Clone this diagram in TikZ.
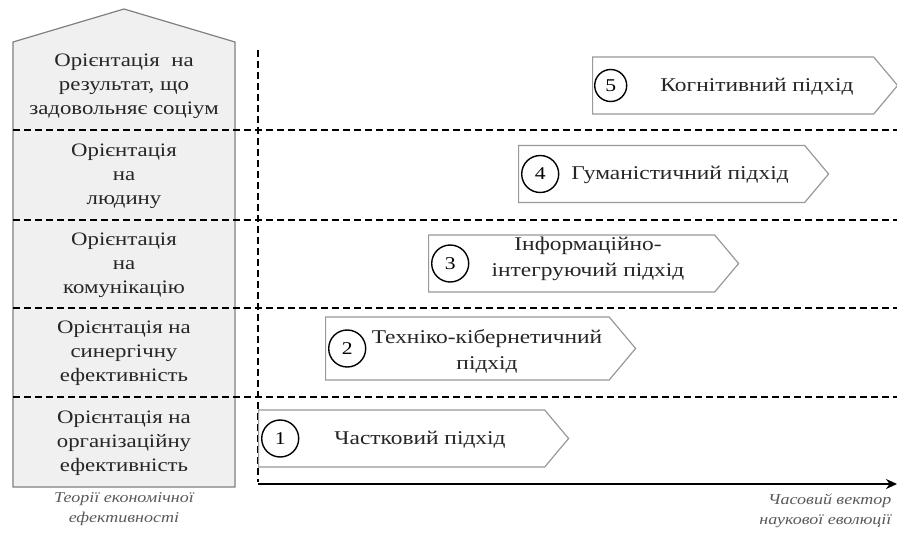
\documentclass[tikz,border=0pt]{standalone}
\usepackage{fontspec}
\setmainfont{Liberation Serif}[FakeStretch=1.2]
\usetikzlibrary{positioning,shapes.symbols,arrows.meta}

\begin{document}
\begin{tikzpicture}[x=1pt, y=-1pt,
        approach/.style={signal, signal to=east, signal pointer angle=100, draw=black!40, line width=1.2pt, fill=white, minimum height=57, minimum width=310, anchor=west, inner sep=0pt},
        num/.style={circle, draw, line width=1.4pt, minimum size=37, inner sep=0pt, font=\fontsize{18}{22}\selectfont},
        orient/.style={align=center, text=black!85, font=\fontsize{19}{24}\selectfont},
        apptext/.style={align=center, text=black!85, font=\fontsize{19.5}{26}\selectfont},
        capt/.style={align=center, text=black!65, font=\itshape\fontsize{15}{20}\selectfont},
        divider/.style={draw=black, line width=1.8pt, dash pattern=on 7pt off 4pt}]
                \useasboundingbox (0,0) rectangle (897,535);

                \draw[draw=black!50, fill=black!6, line width=1.2pt] (13,42) -- (124,9) -- (235,42) -- (235,487) -- (13,487) -- cycle;

                \node[orient] (o5) at (124,86) {Орієнтація\ \ на\\результат, що\\задовольняє соціум};
                \node[orient] (o4) at (124,176) {Орієнтація\\на\\людину};
                \node[orient] (o3) at (124,265) {Орієнтація\\на\\комунікацію};
                \node[orient] (o2) at (124,353) {Орієнтація на\\синергічну\\ефективність};
                \node[orient] (o1) at (124,443) {Орієнтація на\\організаційну\\ефективність};

                \foreach \y in {130,220,308,397}
                    \draw[divider] (13,\y) -- (897,\y);
                \draw[divider] (258,50) -- (258,482);

                \coordinate (t0) at (258,484);
                \coordinate (t1) at (897,484);
                \draw[-{Stealth[length=11pt,width=10pt]}, line width=2.8pt] (t0) -- (t1);

                \node[capt] (cap1) at (124,509) {Теорії економічної\\ефективності};
                \node[capt, align=right, anchor=east] (cap2) at (895,511) {Часовий вектор\\наукової еволюції};

                \node[approach] (a1) at (258,438.5) {};
                \node[approach, minimum height=63] (a2) at (325,348.5) {};
                \node[approach] (a3) at (428,263.5) {};
                \node[approach] (a4) at (518,174) {};
                \node[approach, minimum width=305] (a5) at (592,85.5) {};

                \node[num, right=3pt of a1.west] (n1) {1};
                \node[num, right=3pt of a2.west] (n2) {2};
                \node[num, right=3pt of a3.west] (n3) {3};
                \node[num, right=3pt of a4.west] (n4) {4};
                \node[num, minimum size=32, right=2pt of a5.west] (n5) {5};

                \node[apptext] (p1) at (420,440) {Частковий підхід};
                \node[apptext] (p2) at (487,351) {Техніко-кібернетичний\\підхід};
                \node[apptext] (p3) at (588,259) {Інформаційно-\\інтегруючий підхід};
                \node[apptext] (p4) at (680,175) {Гуманістичний підхід};
                \node[apptext] (p5) at (757,87) {Когнітивний підхід};
            \end{tikzpicture}
\end{document}
